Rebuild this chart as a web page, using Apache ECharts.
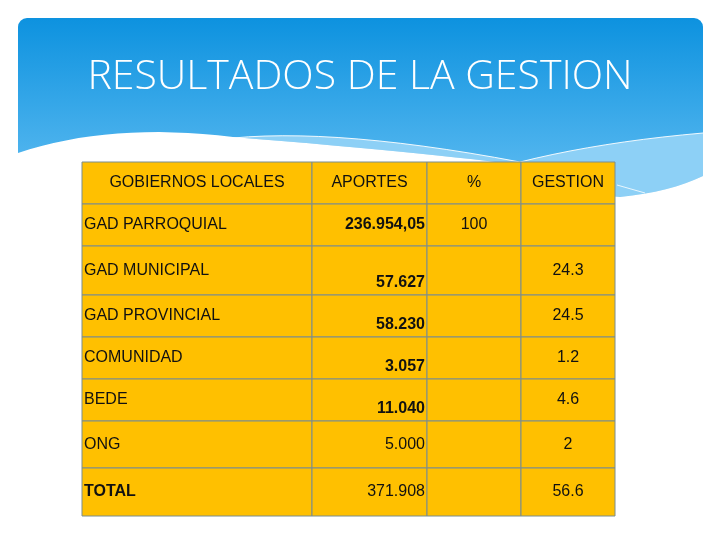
<!DOCTYPE html>
<html>
<head>
<meta charset="utf-8">
<script src="https://cdn.jsdelivr.net/npm/echarts@6/dist/echarts.min.js"></script>
<style>html,body{margin:0;padding:0;background:#fff}#chart{width:720px;height:540px}</style>
</head>
<body>
<div id="chart"></div>
<script>
// ---- data ----
const titleText = 'RESULTADOS DE LA GESTION';
const headers = ['GOBIERNOS LOCALES', 'APORTES', '%', 'GESTION'];
const categories = ['GAD PARROQUIAL', 'GAD MUNICIPAL', 'GAD PROVINCIAL', 'COMUNIDAD', 'BEDE', 'ONG', 'TOTAL'];
const aportes = [236954.05, 57627, 58230, 3057, 11040, 5000, 371908];
const porcentaje = [100, null, null, null, null, null, null];
const gestion = [null, 24.3, 24.5, 1.2, 4.6, 2, 56.6];

// ---- layout (relative widths / heights of table columns and rows) ----
const colWidths = [230, 115, 94, 94];
const rowHeights = [42, 42, 49, 42, 42, 42, 47, 48];
const bottomAlignedAportes = [1, 2, 3, 4];   // data rows whose APORTES sits at the bottom
const boldAportes = [0, 1, 2, 3, 4];

function fmtAporte(v) {
  const parts = v.toFixed(2).split('.');
  const int = parts[0].replace(/\B(?=(\d{3})+(?!\d))/g, '.');
  return parts[1] === '00' ? int : int + ',' + parts[1];
}

const colStart = [0]; colWidths.forEach((w, i) => colStart.push(colStart[i] + w));
const rowStart = [0]; rowHeights.forEach((h, i) => rowStart.push(rowStart[i] + h));

function cellText(c, r) {
  if (r === 0) return headers[c];
  const i = r - 1;
  if (c === 0) return categories[i];
  if (c === 1) return fmtAporte(aportes[i]);
  if (c === 2) return porcentaje[i] == null ? '' : String(porcentaje[i]);
  return gestion[i] == null ? '' : String(gestion[i]);
}

const cells = [];
for (let r = 0; r <= categories.length; r++)
  for (let c = 0; c < headers.length; c++) cells.push([c, r]);

const chart = echarts.init(document.getElementById('chart'));

function sampleQuad(p0, p1, p2, n) {
  const out = [];
  for (let k = 0; k <= n; k++) {
    const t = k / n;
    out.push([(1-t)*(1-t)*p0[0] + 2*(1-t)*t*p1[0] + t*t*p2[0],
              (1-t)*(1-t)*p0[1] + 2*(1-t)*t*p1[1] + t*t*p2[1]]);
  }
  return out;
}

const waveTop = [].concat(
  sampleQuad([18, 153], [110, 122], [233, 137], 16),
  sampleQuad([233, 137], [420, 152], [520, 165], 14).slice(1),
  sampleQuad([520, 165], [575, 195], [620, 197], 8).slice(1),
  sampleQuad([620, 197], [670, 192], [703, 176], 8).slice(1)
);
const whitePoly = waveTop.concat([[703, 540], [18, 540]]);
const lineUpper = [].concat(
  sampleQuad([233, 138], [340, 128], [520, 162], 14),
  sampleQuad([520, 162], [600, 142], [703, 133], 10).slice(1)
);
const lightPoly = lineUpper.concat(waveTop.slice(16).reverse());

chart.setOption({
  backgroundColor: '#ffffff',
  animation: false,
  graphic: [
    { type: 'rect', z: 0, shape: { x: 18, y: 18, width: 685, height: 200, r: [9, 9, 0, 0] },
      style: { fill: new echarts.graphic.LinearGradient(0, 0, 0, 1, [
        { offset: 0, color: '#0d92df' }, { offset: 0.7, color: '#4fb4ee' }, { offset: 1, color: '#6fc5f2' }]) } },
    { type: 'polygon', z: 1, shape: { points: lightPoly }, style: { fill: '#8dd0f6' } },
    { type: 'polygon', z: 2, shape: { points: whitePoly }, style: { fill: '#ffffff' } },
    { type: 'polyline', z: 3, shape: { points: lineUpper }, style: { stroke: '#ffffff', lineWidth: 1, fill: null, opacity: 0.9 } },
    { type: 'polyline', z: 3, shape: { points: [[617, 185], [645, 193]] }, style: { stroke: '#ffffff', lineWidth: 1, fill: null, opacity: 0.8 } },
    { type: 'text', z: 5, x: 360, y: 77,
      style: { text: titleText, fill: '#ffffff', font: '300 41px "Open Sans"', align: 'center', verticalAlign: 'middle' } }
  ],
  grid: { left: 82, top: 162, width: 533, height: 354 },
  xAxis: { type: 'value', min: 0, max: colStart[colStart.length - 1], show: false },
  yAxis: { type: 'value', min: 0, max: rowStart[rowStart.length - 1], inverse: true, show: false },
  series: [{
    type: 'custom',
    z: 10,
    data: cells,
    renderItem: function (params, api) {
      const c = api.value(0), r = api.value(1);
      const p0 = api.coord([colStart[c], rowStart[r]]);
      const p1 = api.coord([colStart[c + 1], rowStart[r + 1]]);
      const x0 = p0[0], y0 = p0[1], x1 = p1[0], y1 = p1[1];
      const txt = cellText(c, r);
      let tx = (x0 + x1) / 2, ty = (y0 + y1) / 2, align = 'center';
      let weight = 'normal';
      if (r > 0 && c === 0) { tx = x0 + 2; align = 'left'; if (r === rowHeights.length - 1) weight = 'bold'; }
      if (r > 0 && c === 1) {
        tx = x1 - 2; align = 'right';
        if (bottomAlignedAportes.indexOf(r - 1) >= 0) ty = y1 - 12;
        if (boldAportes.indexOf(r - 1) >= 0) weight = 'bold';
      }
      return {
        type: 'group',
        children: [
          { type: 'rect', shape: { x: x0, y: y0, width: x1 - x0, height: y1 - y0 },
            style: { fill: '#ffc000', stroke: '#7b8d8e', lineWidth: 1 } },
          { type: 'text', x: tx, y: ty,
            style: { text: txt, fill: '#111111', align: align, verticalAlign: 'middle',
              font: weight + ' 16px "Liberation Sans", Arial, sans-serif' } }
        ]
      };
    }
  }]
});
</script>
</body>
</html>
